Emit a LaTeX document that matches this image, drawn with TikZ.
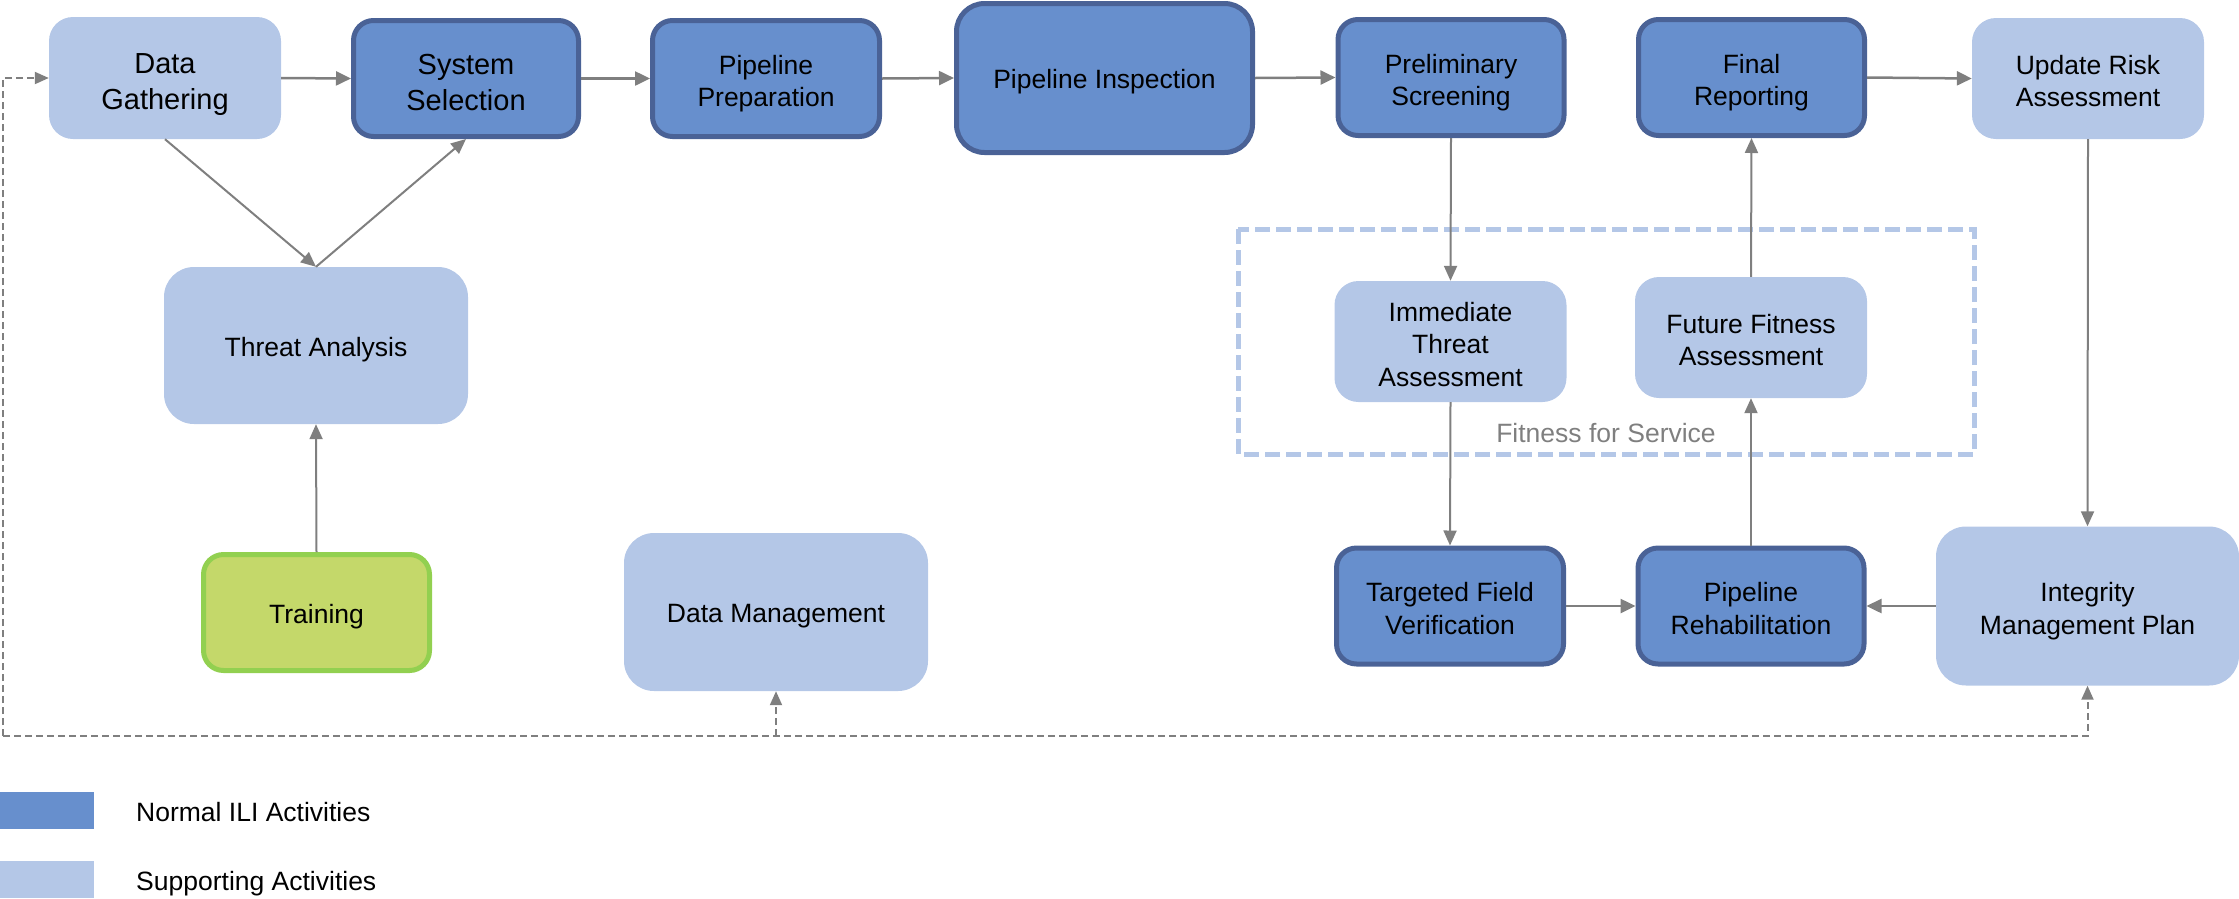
\documentclass[tikz,border=0pt]{standalone}
\usepackage{fontspec}
\setmainfont{Liberation Sans}
\usetikzlibrary{arrows.meta}
\definecolor{darkfill}{HTML}{678FCD}
\definecolor{darkborder}{HTML}{4A6296}
\definecolor{lightfill}{HTML}{B4C7E7}
\definecolor{greenfill}{HTML}{C4D86A}
\definecolor{greenborder}{HTML}{92D050}
\definecolor{arrowgray}{HTML}{7F7F7F}
\newcommand\fsz[2]{\fontsize{#1}{#2}\selectfont}
\newcommand\capstrut{\rule[-0.25em]{0pt}{1.216em}}
\newcommand\tstr[1]{\rule[-0.25em]{0pt}{\dimexpr 1.216em+#1\relax}}
\newcommand\ms{\tstr{5.5pt}}
\tikzset{
  tshift/.style={execute at begin node={\tstr{#1}}},
  box/.style={align=center, inner sep=0pt, text=black, font=\fsz{26.5}{32.5},
    tshift=3pt, execute at end node=\capstrut},
  darkbox/.style={box, rounded corners=20pt, fill=darkfill, draw=darkborder, line width=5pt},
  lightbox/.style={box, rounded corners=24pt, fill=lightfill},
  greenbox/.style={box, rounded corners=20pt, fill=greenfill, draw=greenborder, line width=5pt},
  arr/.style={draw=arrowgray, line width=2.5pt, -{Triangle[length=15pt,width=14pt]}},
  thinarr/.style={draw=arrowgray, line width=2pt, -{Triangle[length=15pt,width=13pt]}},
  fb/.style={draw=arrowgray, line width=2pt, dash pattern=on 7pt off 4pt},
  fbarr/.style={fb, -{Triangle[length=14pt,width=12pt]}},
}
\begin{document}
\begin{tikzpicture}[x=1pt,y=-1pt]
\useasboundingbox (0,0) rectangle (2239,898);

% Fitness for Service group
\draw[lightfill, line width=5pt, dash pattern=on 15pt off 6pt] (1238,229) rectangle (1974,454);
\node[box, tshift=0pt, text=arrowgray] (ffs) at (1606,432) {Fitness for Service};

% top row
\node[lightbox, minimum width=232pt, minimum height=122pt, font=\fsz{29}{36}] (dg) at (165,78) {\tstr{7pt}Data\\Gathering\capstrut};
\node[darkbox, minimum width=225pt, minimum height=116pt, font=\fsz{29}{36}] (ss) at (466,78.5) {\tstr{7pt}System\\Selection\capstrut};
\node[darkbox, minimum width=227pt, minimum height=116pt] (pp) at (766,78.5) {\ms Pipeline\\Preparation\capstrut};
\node[darkbox, rounded corners=28pt, minimum width=296pt, minimum height=149pt] (pi) at (1104.5,78) {Pipeline Inspection};
\node[darkbox, minimum width=226pt, minimum height=116pt] (ps) at (1451,77.5) {\ms Preliminary\\Screening\capstrut};
\node[darkbox, minimum width=226pt, minimum height=116pt] (fr) at (1751.5,77.5) {\ms Final\\Reporting\capstrut};
\node[lightbox, minimum width=232pt, minimum height=121pt] (ura) at (2088,78.5) {\ms Update Risk\\Assessment\capstrut};

% left column
\node[lightbox, rounded corners=30pt, minimum width=304pt, minimum height=157pt] (ta) at (316,345.5) {Threat Analysis};
\node[greenbox, minimum width=226pt, minimum height=116pt] (tr) at (316.5,612.5) {Training};
\node[lightbox, rounded corners=30pt, minimum width=304pt, minimum height=158pt] (dm) at (776,612) {Data Management};

% fitness for service inner
\node[lightbox, minimum width=232pt, minimum height=121pt] (ita) at (1450.5,341.5) {\ms Immediate\\Threat\\Assessment\capstrut};
\node[lightbox, minimum width=232pt, minimum height=121pt] (ffa) at (1751,337.5) {\ms Future Fitness\\Assessment\capstrut};

% bottom right
\node[darkbox, minimum width=227pt, minimum height=116pt] (tfv) at (1450,606) {\ms Targeted Field\\Verification\capstrut};
\node[darkbox, minimum width=226pt, minimum height=116pt] (pr) at (1751,606) {\ms Pipeline\\Rehabilitation\capstrut};
\node[lightbox, rounded corners=30pt, minimum width=303pt, minimum height=159pt] (imp) at (2087.5,606) {\ms Integrity\\Management Plan\capstrut};

% main flow arrows
\draw[arr] (dg.east) -- (ss.west);
\draw[arr] (ss.east) -- (pp.west);
\draw[arr] (pp.east) -- (pi.west);
\draw[arr] (pi.east) -- (ps.west);
\draw[arr] (fr.east) -- (ura.west);

\draw[thinarr] (dg.south) -- (ta.north);
\draw[thinarr] (ta.north) -- (ss.south);
\draw[thinarr] (tr.north) -- (ta.south);

\draw[thinarr] (ps.south) -- (ita.north);
\draw[thinarr] (ita.south) -- (tfv.north);
\draw[arr] (tfv.east) -- (pr.west);
\draw[thinarr] (pr.north) -- (ffa.south);
\draw[thinarr] (ffa.north) -- (fr.south);
\draw[thinarr] (ura.south) -- (imp.north);
\draw[arr] (imp.west) -- (pr.east);

% feedback dashed lines
\coordinate (fbl) at (3,736);
\coordinate (fbd) at (776,736);
\draw[fbarr] (fbl) |- (dg.west);
\draw[fbarr] (fbl) -| (imp.south);
\draw[fbarr] (fbd) -- (dm.south);

% legend
\node[fill=darkfill, minimum width=94pt, minimum height=37pt, inner sep=0pt, anchor=north west] (lgd) at (0,792) {};
\node[fill=lightfill, minimum width=94pt, minimum height=37pt, inner sep=0pt, anchor=north west] (lgl) at (0,861) {};
\node[box, anchor=base west] (lgdt) at (136,821) {Normal ILI Activities};
\node[box, anchor=base west] (lglt) at (136,890) {Supporting Activities};
\end{tikzpicture}
\end{document}
